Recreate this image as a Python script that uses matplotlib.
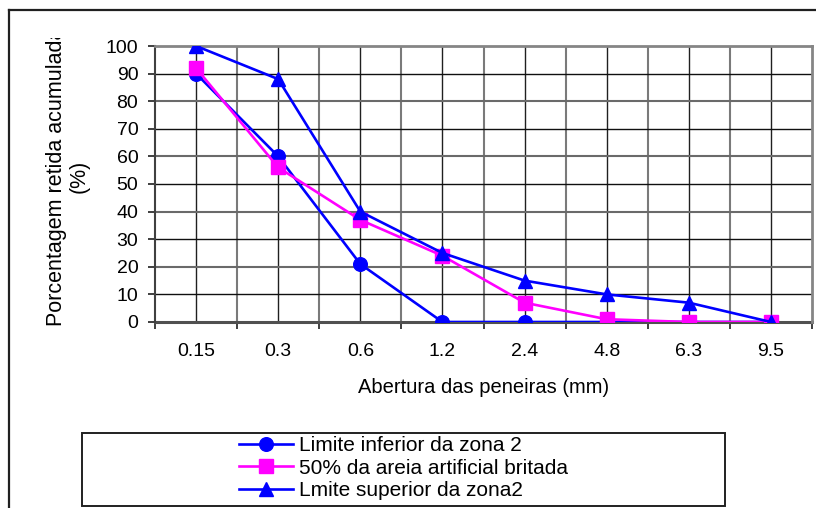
import matplotlib
matplotlib.use("Agg")
import matplotlib.pyplot as plt
from matplotlib.lines import Line2D
from matplotlib.patches import Rectangle
from matplotlib.transforms import Bbox, TransformedBbox

plt.rcParams['font.family'] = ['Liberation Sans', 'DejaVu Sans']

# Sieve openings (mm) and cumulative retained percentages
aberturas = ["0.15", "0.3", "0.6", "1.2", "2.4", "4.8", "6.3", "9.5"]
limite_inferior = [90, 60, 21, 0, 0, 0, 0, 0]
areia_britada = [92, 56, 37, 24, 7, 1, 0, 0]
limite_superior = [100, 88, 40, 25, 15, 10, 7, 0]

nomes = ["Limite inferior da zona 2",
         "50% da areia artificial britada",
         "Lmite superior da zona2"]

W, H = 816, 508
fig = plt.figure(figsize=(W / 100, H / 100), dpi=100)

def px(x, y):
    """Pixel position (from top-left) to figure fraction."""
    return x / W, 1 - y / H

# plot area
left, top = px(155, 46)
right, bottom = px(812, 322)
ax = fig.add_axes([left, bottom, right - left, top - bottom])

n = len(aberturas)
pos = [i + 0.5 for i in range(n)]
ax.set_xlim(0, n)
ax.set_ylim(0, 100)

# grid: category boundaries and centres, every 10 %
for i in range(1, n):
    ax.axvline(i, color="#7a7a7a", lw=1.5, zorder=1)
for p in pos:
    ax.axvline(p, color="#202020", lw=1.0, zorder=1)
for v in range(10, 100, 10):
    if v % 20 == 0:
        ax.axhline(v, color="#6a6a6a", lw=1.5, zorder=1)
    else:
        ax.axhline(v, color="#101010", lw=1.0, zorder=1)

fs = 14
ms = 9.8
lw = 1.9
ax.plot(pos, limite_inferior, color="#0000FF", lw=lw, marker="o",
        ms=ms, zorder=3, label=nomes[0])
ax.plot(pos, areia_britada, color="#FF00FF", lw=lw, marker="s",
        ms=ms, zorder=4, label=nomes[1])
ax.plot(pos, limite_superior, color="#0000FF", lw=lw, marker="^",
        ms=ms + 0.5, zorder=5, label=nomes[2])

# spines
for s in ("top", "right"):
    ax.spines[s].set_color("#858585")
    ax.spines[s].set_linewidth(2.0)
ax.spines["left"].set_color("#404040")
ax.spines["left"].set_linewidth(1.5)
ax.spines["bottom"].set_color("#505050")
ax.spines["bottom"].set_linewidth(2.2)
ax.spines["bottom"].set_zorder(2)

# ticks
ax.set_xticks(range(n + 1))
ax.set_xticklabels([])
ax.set_xticks(pos, minor=True)
ax.set_xticklabels(aberturas, minor=True, fontsize=fs)
ax.tick_params(axis="x", which="major", length=5, width=1.3, color="#303030", direction="out")
ax.tick_params(axis="x", which="minor", length=0, pad=15)
ax.set_yticks(range(0, 101, 10))
ax.tick_params(axis="y", length=5, width=1.3, color="#303030", labelsize=fs, pad=7)

ax.set_xlabel("Abertura das peneiras (mm)", fontsize=14.5, labelpad=13)

# y label, clipped by the top of the chart frame
yx, yy = px(68, 326)
ylab = fig.text(yx, yy, "Porcentagem retida acumulada\n(%)", rotation=90,
                rotation_mode="anchor", ha="left", va="center",
                multialignment="center", fontsize=15.5, linespacing=1.1)
clip_top = px(0, 38)[1]
ylab.set_clip_box(TransformedBbox(Bbox([[0, 0], [1, clip_top]]), fig.transFigure))
ylab.set_clip_on(True)

# outer chart frame (left and top edges)
fx0, fy0 = px(9, 10)
fig.add_artist(Line2D([fx0, fx0], [0, fy0], color="#202020", lw=1.6))
fig.add_artist(Line2D([fx0, 1], [fy0, fy0], color="#202020", lw=1.6))

# legend box
lx0, ly0 = px(82, 506)
lx1, ly1 = px(725, 433)
fig.add_artist(Rectangle((lx0, ly0), lx1 - lx0, ly1 - ly0, transform=fig.transFigure,
                         fill=False, edgecolor="#202020", lw=1.4))
handles, labels = ax.get_legend_handles_labels()
lcx, lcy = px(403.5, 468)
fig.legend(handles, labels, loc="center", bbox_to_anchor=(lcx, lcy),
           frameon=False, fontsize=15, handlelength=2.6, handletextpad=0.25,
           labelspacing=0.16, borderpad=0)

fig.savefig("out.png", dpi=100)
